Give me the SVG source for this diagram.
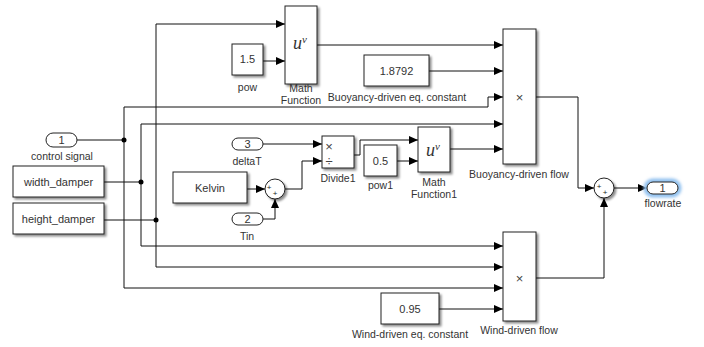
<svg xmlns="http://www.w3.org/2000/svg" width="704" height="347" viewBox="0 0 704 347">
<defs>
<filter id="sh" x="-20%" y="-20%" width="150%" height="150%">
<feDropShadow dx="2" dy="2" stdDeviation="1.2" flood-color="#000" flood-opacity="0.45"/>
</filter>
<filter id="glow" x="-30%" y="-60%" width="160%" height="220%">
<feGaussianBlur stdDeviation="1.5"/>
</filter>
<marker id="ar" markerUnits="userSpaceOnUse" markerWidth="10" markerHeight="10" refX="9" refY="4" orient="auto">
<path d="M0,0 L9,4 L0,8 Z" fill="#000"/>
</marker>
</defs>
<style>
.blk{fill:#fff;stroke:#222;stroke-width:1;filter:url(#sh)}
.port{fill:#fff;stroke:#222;stroke-width:1}
.ln{fill:none;stroke:#111;stroke-width:1}
.t{font-family:"Liberation Sans",Arial,sans-serif;font-size:10.5px;fill:#333;text-anchor:middle}
.bt{font-family:"Liberation Sans",Arial,sans-serif;font-size:11px;fill:#333;text-anchor:middle}
.uv{font-family:"Liberation Serif","Times New Roman",serif;font-style:italic;font-size:18px;fill:#333;text-anchor:middle}
.sg{font-family:"Liberation Sans",Arial,sans-serif;font-size:8px;fill:#222;text-anchor:middle}
.x{font-family:"Liberation Sans",Arial,sans-serif;font-size:13px;fill:#444;text-anchor:middle}
</style>
<rect width="704" height="347" fill="#fff"/>

<g id="connectors">
<path class="ln" d="M77,140 H124"/>
<path class="ln" d="M124,140 V107 H488 V97 H503" marker-end="url(#ar)"/>
<path class="ln" d="M124,140 V288 H503" marker-end="url(#ar)"/>
<path class="ln" d="M104,182 H141"/>
<path class="ln" d="M141,182 V124 H503" marker-end="url(#ar)"/>
<path class="ln" d="M141,182 V246 H503" marker-end="url(#ar)"/>
<path class="ln" d="M104,220 H156"/>
<path class="ln" d="M156,220 V24 H285" marker-end="url(#ar)"/>
<path class="ln" d="M156,220 V267 H503" marker-end="url(#ar)"/>
<path class="ln" d="M263,61 H285" marker-end="url(#ar)"/>
<path class="ln" d="M317,45 H503" marker-end="url(#ar)"/>
<path class="ln" d="M429,71 H503" marker-end="url(#ar)"/>
<path class="ln" d="M450,149 H503" marker-end="url(#ar)"/>
<path class="ln" d="M263,144 H322" marker-end="url(#ar)"/>
<path class="ln" d="M247,189 H265" marker-end="url(#ar)"/>
<path class="ln" d="M263,219 H275 V199" marker-end="url(#ar)"/>
<path class="ln" d="M285,189 H302 V161 H322" marker-end="url(#ar)"/>
<path class="ln" d="M354,155 H360 V140 H418" marker-end="url(#ar)"/>
<path class="ln" d="M397,161 H418" marker-end="url(#ar)"/>
<path class="ln" d="M536,97 H578 V188 H594" marker-end="url(#ar)"/>
<path class="ln" d="M536,278 H604 V198" marker-end="url(#ar)"/>
<path class="ln" d="M614,188 H647" marker-end="url(#ar)"/>
<path class="ln" d="M439,309 H503" marker-end="url(#ar)"/>
<circle cx="124" cy="140" r="2.5" fill="#000"/>
<circle cx="141" cy="182" r="2.5" fill="#000"/>
<circle cx="156" cy="220" r="2.5" fill="#000"/>
</g>

<g id="control_signal">
<rect class="port" x="46" y="133" width="31" height="14" rx="7"/>
<text class="bt" x="61.5" y="144">1</text>
<text class="t" x="62" y="160">control signal</text>
</g>
<g id="width_damper">
<rect class="blk" x="13" y="166" width="91" height="31"/>
<text class="bt" x="58.5" y="186">width_damper</text>
</g>
<g id="height_damper">
<rect class="blk" x="13" y="203" width="91" height="31"/>
<text class="bt" x="58.5" y="223">height_damper</text>
</g>
<g id="pow">
<rect class="blk" x="232" y="44" width="31" height="31"/>
<text class="bt" x="247.5" y="63">1.5</text>
<text class="t" x="247.5" y="91">pow</text>
</g>
<g id="math_function">
<rect class="blk" x="285" y="6" width="32" height="78"/>
<text class="uv" x="300" y="49">u<tspan font-size="11" dy="-6">v</tspan></text>
<text class="t" x="301" y="92">Math</text>
<text class="t" x="301" y="104">Function</text>
</g>
<g id="buoyancy_const">
<rect class="blk" x="364" y="55" width="65" height="31"/>
<text class="bt" x="396.5" y="75">1.8792</text>
<text class="t" x="397" y="101">Buoyancy-driven eq. constant</text>
</g>
<g id="buoyancy_flow">
<rect class="blk" x="503" y="29" width="33" height="135"/>
<text class="x" x="519.5" y="102">×</text>
<text class="t" x="519" y="178">Buoyancy-driven flow</text>
</g>
<g id="deltaT">
<rect class="port" x="232" y="138" width="31" height="12" rx="6"/>
<text class="bt" x="247.5" y="148">3</text>
<text class="t" x="247" y="165">deltaT</text>
</g>
<g id="kelvin">
<rect class="blk" x="173" y="172" width="74" height="31"/>
<text class="bt" x="210" y="192">Kelvin</text>
</g>
<g id="tin">
<rect class="port" x="232" y="213" width="31" height="12" rx="6"/>
<text class="bt" x="247.5" y="223">2</text>
<text class="t" x="247" y="240">Tin</text>
</g>
<g id="sum1">
<circle cx="275" cy="189" r="10" fill="#fff" stroke="#222" filter="url(#sh)"/>
<text class="sg" x="269" y="190">+</text>
<text class="sg" x="275" y="196">+</text>
</g>
<g id="divide1">
<rect class="blk" x="322" y="136" width="32" height="32"/>
<text class="x" x="329" y="151" font-size="12">×</text>
<text class="x" x="329" y="166" font-size="12">÷</text>
<text class="t" x="338" y="182">Divide1</text>
</g>
<g id="pow1">
<rect class="blk" x="364" y="145" width="33" height="31"/>
<text class="bt" x="380.5" y="165">0.5</text>
<text class="t" x="380.5" y="189">pow1</text>
</g>
<g id="math_function1">
<rect class="blk" x="418" y="127" width="32" height="45"/>
<text class="uv" x="433" y="156">u<tspan font-size="11" dy="-6">v</tspan></text>
<text class="t" x="434" y="186">Math</text>
<text class="t" x="434" y="198">Function1</text>
</g>
<g id="sum2">
<circle cx="604" cy="188" r="10" fill="#fff" stroke="#222" filter="url(#sh)"/>
<text class="sg" x="599" y="189">+</text>
<text class="sg" x="605" y="195">+</text>
</g>
<g id="flowrate">
<rect x="646" y="181" width="33" height="14" rx="7" fill="none" stroke="#8fc0ef" stroke-width="5" filter="url(#glow)"/>
<rect class="port" x="647" y="182" width="31" height="12" rx="6"/>
<text class="bt" x="662.5" y="192">1</text>
<text class="t" x="663" y="207">flowrate</text>
</g>
<g id="wind_const">
<rect class="blk" x="381" y="293" width="58" height="31"/>
<text class="bt" x="410" y="313">0.95</text>
<text class="t" x="410" y="338">Wind-driven eq. constant</text>
</g>
<g id="wind_flow">
<rect class="blk" x="503" y="232" width="33" height="89"/>
<text class="x" x="519.5" y="283">×</text>
<text class="t" x="519" y="334">Wind-driven flow</text>
</g>
</svg>
